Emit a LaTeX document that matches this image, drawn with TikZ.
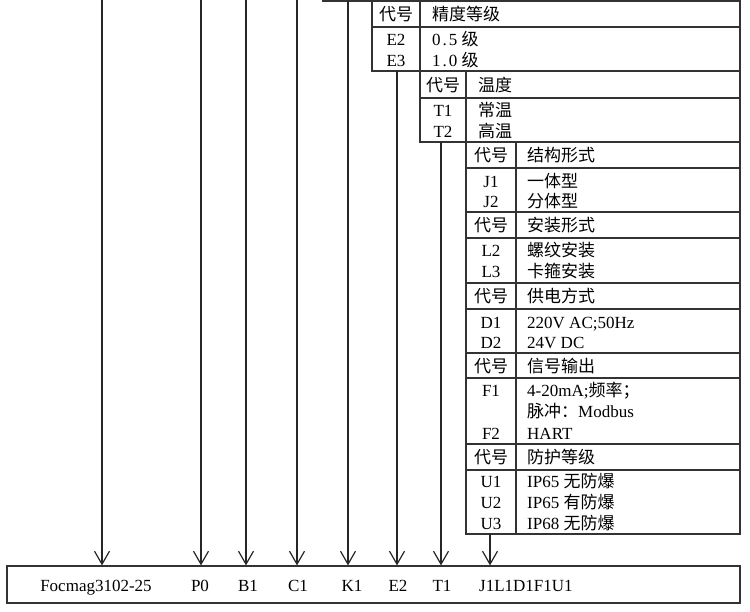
\documentclass[tikz,border=0pt]{standalone}
\usepackage{fontspec}
\setmainfont{Liberation Serif}
\newfontfamily\cjk{Noto Sans CJK SC}
\usetikzlibrary{arrows.meta, positioning, calc}
\newcommand{\zh}[1]{{\cjk #1}}

\begin{document}
\begin{tikzpicture}[x=1pt,y=-1pt]
  % Parameters (pixel grid, y runs downwards)
  \def\xR{740}        % right edge of every table
  \def\yTxt{585}      % text line of the model box

  % Styles
  \tikzset{
    frame/.style={line width=1.2pt,draw=black!80},
    arr/.style={line width=1.2pt,draw=black!85,
      -{Straight Barb[length=13pt,width=15pt,line width=1.2pt]}},
    txt/.style={font=\fontsize{17}{20}\selectfont,inner sep=0pt,
      text height=12pt,text depth=3pt,yshift=-2pt},
    cell/.style={txt,anchor=center},
    desc/.style={txt,anchor=west}
  }

  \useasboundingbox (0,0) rectangle (750,611);

  % Bottom edge of the table above (cut off)
  \draw[frame] (322,1) -- (\xR,1);

  % Table E: accuracy class
  \draw[frame] (372,1) rectangle (\xR,71);
  \draw[frame] (372,27) -- (\xR,27);
  \draw[frame] (420,1) -- (420,71);
  \node[cell] (eHd) at (396,14) {\zh{代号}};
  \node[desc] (eHt) at (432,14) {\zh{精度等级}};
  \node[cell] (e2) at (396,39) {E2};
  \node[desc] (e2t) at (432,39) {0\kern2pt.\kern2pt5 \zh{级}};
  \node[cell] (e3) at (396,60) {E3};
  \node[desc] (e3t) at (432,60) {1\kern2pt.\kern2pt0 \zh{级}};

  % Table T: temperature
  \draw[frame] (420,71) rectangle (\xR,142);
  \draw[frame] (420,98) -- (\xR,98);
  \draw[frame] (466,71) -- (466,142);
  \node[cell] (tHd) at (443,85) {\zh{代号}};
  \node[desc] (tHt) at (478,85) {\zh{温度}};
  \node[cell] (t1) at (443,110) {T1};
  \node[desc] (t1t) at (478,110) {\zh{常温}};
  \node[cell] (t2) at (443,131) {T2};
  \node[desc] (t2t) at (478,131) {\zh{高温}};

  % Table J..U: structure, mounting, supply, output, protection
  \draw[frame] (466,142) rectangle (\xR,534);
  \draw[frame] (516,142) -- (516,534);
  \foreach \y in {168,212,238,283,309,353,378,444,470}
    \draw[frame] (466,\y) -- (\xR,\y);
  \foreach \y/\t in {155/结构形式,225/安装形式,296/供电方式,366/信号输出,457/防护等级}{
    \node[cell] at (491,\y) {\zh{代号}};
    \node[desc] at (527,\y) {\zh{\t}};
  }
  \node[cell] (j1) at (491,181) {J1};
  \node[desc] (j1t) at (527,181) {\zh{一体型}};
  \node[cell] (j2) at (491,201) {J2};
  \node[desc] (j2t) at (527,201) {\zh{分体型}};
  \node[cell] (l2) at (491,250) {L2};
  \node[desc] (l2t) at (527,250) {\zh{螺纹安装}};
  \node[cell] (l3) at (491,271) {L3};
  \node[desc] (l3t) at (527,271) {\zh{卡箍安装}};
  \node[cell] (d1) at (491,322) {D1};
  \node[desc] (d1t) at (527,322) {220V AC;50Hz};
  \node[cell] (d2) at (491,342) {D2};
  \node[desc] (d2t) at (527,342) {24V DC};
  \node[cell] (f1) at (491,390) {F1};
  \node[desc] (f1t) at (527,390) {4-20mA;\zh{频率；}};
  \node[desc] (f1u) at (527,411) {\zh{脉冲：}Modbus};
  \node[cell] (f2) at (491,433) {F2};
  \node[desc] (f2t) at (527,433) {HART};
  \node[cell] (u1) at (491,481) {U1};
  \node[desc] (u1t) at (527,481) {IP65 \zh{无防爆}};
  \node[cell] (u2) at (491,502) {U2};
  \node[desc] (u2t) at (527,502) {IP65 \zh{有防爆}};
  \node[cell] (u3) at (491,523) {U3};
  \node[desc] (u3t) at (527,523) {IP68 \zh{无防爆}};

  % Model box
  \node[frame,draw,minimum width=733pt,minimum height=37pt,inner sep=0pt]
    (model) at (373.5,584.5) {};
  \node[cell] (mSer) at (96,\yTxt) {Focmag3102-25};
  \node[cell] (mP) at (200,\yTxt) {P0};
  \node[cell] (mB) at (248,\yTxt) {B1};
  \node[cell] (mC) at (298,\yTxt) {C1};
  \node[cell] (mK) at (352,\yTxt) {K1};
  \node[cell] (mE) at (398,\yTxt) {E2};
  \node[cell] (mT) at (442,\yTxt) {T1};
  \node[desc] (mJ) at (479,\yTxt) {J1L1D1F1U1};

  % Arrow starts
  \coordinate (aSer) at (102,0);
  \coordinate (aP) at (201,0);
  \coordinate (aB) at (246,0);
  \coordinate (aC) at (297,0);
  \coordinate (aK) at (348,1);
  \coordinate (aE) at (397,71);
  \coordinate (aT) at (441,142);
  \coordinate (aJ) at (490,534);

  % Arrows down to the model box
  \foreach \a in {aSer,aP,aB,aC,aK,aE,aT,aJ}
    \draw[arr] (\a) -- (\a |- model.north);

\end{tikzpicture}
\end{document}
